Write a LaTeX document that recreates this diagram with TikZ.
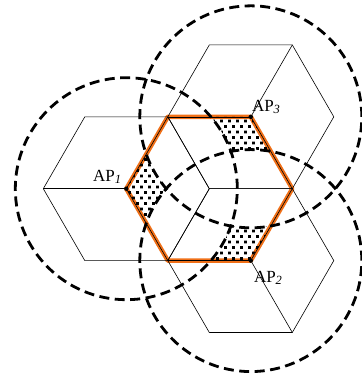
\documentclass[tikz,border=0pt]{standalone}
\usepackage{fontspec}
\setmainfont{Liberation Serif}
\usetikzlibrary{calc,patterns}
\definecolor{hexorange}{RGB}{240,112,24}
\pgfdeclarepatternformonly{sparsedots}{\pgfqpoint{-1pt}{-1pt}}{\pgfqpoint{9pt}{12pt}}{\pgfqpoint{8pt}{11pt}}{
  \pgfpathrectangle{\pgfqpoint{0pt}{0pt}}{\pgfqpoint{2.8pt}{2.8pt}}
  \pgfpathrectangle{\pgfqpoint{4pt}{5.5pt}}{\pgfqpoint{2.8pt}{2.8pt}}
  \pgfusepath{fill}}
\newcommand{\aplabel}[1]{AP\raisebox{-2pt}{\fontsize{12.5}{14}\selectfont\itshape #1}}
\tikzset{
  cellline/.style={line width=0.6pt},
  coverage/.style={line width=2.8pt,dash pattern=on 10pt off 5.5pt,line cap=butt},
  centralhex/.style={hexorange,line width=4.5pt},
}
\begin{document}
\begin{tikzpicture}[x=1pt,y=1pt,line join=round,line cap=round,font=\fontsize{17}{20}\selectfont]
			\def \R{83}
			\def \rcov{111}
			\def \outerframe{(-50,-50) -- (-50,450) -- (450,450) -- (450,-50) -- cycle}
			\useasboundingbox (0,0) rectangle (362,381);
			\coordinate (C) at (209.3,192.3);
			\coordinate (AP1) at ($(C)+(180:\R)$);
			\coordinate (AP2) at ($(C)+(-60:\R)$);
			\coordinate (AP3) at ($(C)+(60:\R)$);
			% central hexagon
			\draw[centralhex] ($(C)+(0:\R)$) \foreach \k in {1,...,5}{ -- ($(C)+(\k*60:\R)$)} -- cycle;
			% cells split into rhombi
			\foreach \a/\d in {1/180,2/-60,3/60}{
				\draw[cellline] ($(AP\a)+(0:\R)$) \foreach \k in {1,...,5}{ -- ($(AP\a)+(\k*60:\R)$)} -- cycle;
				\foreach \k in {0,1,2}
					\draw[cellline] (AP\a) -- ($(AP\a)+(\d+\k*120:\R)$);
			}
			% areas seen by one AP only
			\foreach \a/\b/\c in {1/2/3,2/1/3,3/1/2}{
				\begin{scope}[even odd rule]
					\clip ($(C)+(0:\R)$) \foreach \k in {1,...,5}{ -- ($(C)+(\k*60:\R)$)} -- cycle;
					\clip (AP\b) circle (\rcov) \outerframe;
					\fill[pattern=sparsedots] (AP\c) circle (\rcov) \outerframe;
				\end{scope}
			}
			% coverage circles
			\foreach \a in {1,2,3}
				\draw[coverage] (AP\a) circle (\rcov);
			\foreach \a in {1,2,3}
				\fill (AP\a) circle (2.2);
			\node[anchor=base east,inner sep=0pt] (lab1) at ($(AP1)+(-5,7)$) {\aplabel{1}};
			\node[anchor=base west,inner sep=0pt] (lab3) at ($(AP3)+(1,5)$) {\aplabel{3}};
			\node[anchor=base west,inner sep=0pt] (lab2) at ($(AP2)+(3,-21.5)$) {\aplabel{2}};
		\end{tikzpicture}
\end{document}
